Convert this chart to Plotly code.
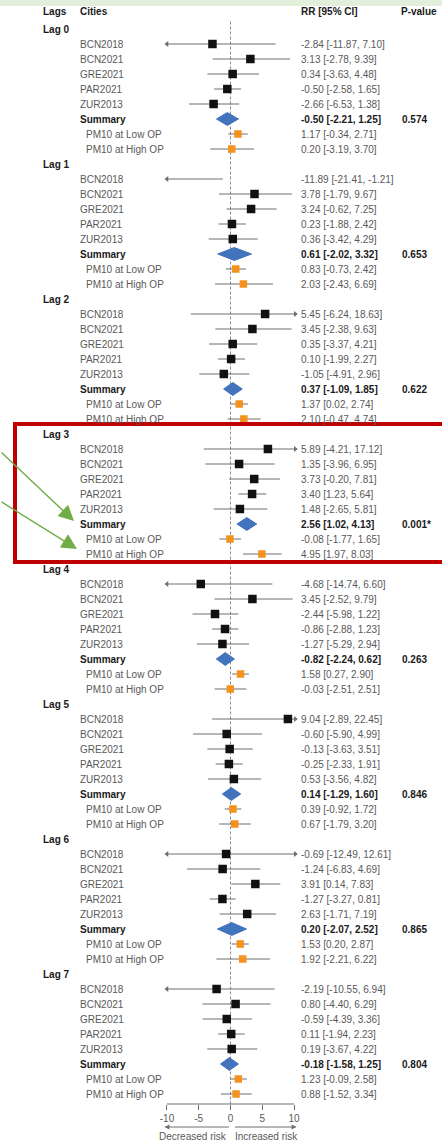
import plotly.graph_objects as go

W, H = 442, 1141

# ---------------- data ----------------
lags = ["Lag 0", "Lag 1", "Lag 2", "Lag 3", "Lag 4", "Lag 5", "Lag 6", "Lag 7"]
cities = ["BCN2018", "BCN2021", "GRE2021", "PAR2021", "ZUR2013"]

city_est = [
    [-2.84, 3.13, 0.34, -0.50, -2.66],
    [-11.89, 3.78, 3.24, 0.23, 0.36],
    [5.45, 3.45, 0.35, 0.10, -1.05],
    [5.89, 1.35, 3.73, 3.40, 1.48],
    [-4.68, 3.45, -2.44, -0.86, -1.27],
    [9.04, -0.60, -0.13, -0.25, 0.53],
    [-0.69, -1.24, 3.91, -1.27, 2.63],
    [-2.19, 0.80, -0.59, 0.11, 0.19],
]
city_lo = [
    [-11.87, -2.78, -3.63, -2.58, -6.53],
    [-21.41, -1.79, -0.62, -1.88, -3.42],
    [-6.24, -2.38, -3.37, -1.99, -4.91],
    [-4.21, -3.96, -0.20, 1.23, -2.65],
    [-14.74, -2.52, -5.98, -2.88, -5.29],
    [-2.89, -5.90, -3.63, -2.33, -3.56],
    [-12.49, -6.83, 0.14, -3.27, -1.71],
    [-10.55, -4.40, -4.39, -1.94, -3.67],
]
city_hi = [
    [7.10, 9.39, 4.48, 1.65, 1.38],
    [-1.21, 9.67, 7.25, 2.42, 4.29],
    [18.63, 9.63, 4.21, 2.27, 2.96],
    [17.12, 6.95, 7.81, 5.64, 5.81],
    [6.60, 9.79, 1.22, 1.23, 2.94],
    [22.45, 4.99, 3.51, 1.91, 4.82],
    [12.61, 4.69, 7.83, 0.81, 7.19],
    [6.94, 6.29, 3.36, 2.23, 4.22],
]

sum_est = [-0.50, 0.61, 0.37, 2.56, -0.82, 0.14, 0.20, -0.18]
sum_lo = [-2.21, -2.02, -1.09, 1.02, -2.24, -1.29, -2.07, -1.58]
sum_hi = [1.25, 3.32, 1.85, 4.13, 0.62, 1.60, 2.52, 1.25]
p_values = ["0.574", "0.653", "0.622", "0.001*", "0.263", "0.846", "0.865", "0.804"]

op_labels = ["PM10 at Low OP", "PM10 at High OP"]
low_est = [1.17, 0.83, 1.37, -0.08, 1.58, 0.39, 1.53, 1.23]
low_lo = [-0.34, -0.73, 0.02, -1.77, 0.27, -0.92, 0.20, -0.09]
low_hi = [2.71, 2.42, 2.74, 1.65, 2.90, 1.72, 2.87, 2.58]
high_est = [0.20, 2.03, 2.10, 4.95, -0.03, 0.67, 1.92, 0.88]
high_lo = [-3.19, -2.43, -0.47, 1.97, -2.51, -1.79, -2.21, -1.52]
high_hi = [3.70, 6.69, 4.74, 8.03, 2.51, 3.20, 6.22, 3.34]

x_ticks = [-10, -5, 0, 5, 10]
headers = ["Lags", "Cities", "RR [95% CI]", "P-value"]
direction_labels = ["Decreased risk", "Increased risk"]

# ---------------- style ----------------
FONT = "Liberation Sans, Arial, sans-serif"
GRAY_TXT = "#595959"
LINE_GRAY = "#6e6e6e"
BLACK = "#111111"
ORANGE = "#F5921E"
BLUE = "#4273BD"
XMIN, XMAX = -10.0, 10.2          # clipping limits for CIs (arrows)
ROWS_PER_LAG = 9


def row_of(lag, offset):
    return lag * ROWS_PER_LAG + offset


def fmt(e, lo, hi):
    return f"{e:.2f} [{lo:.2f}, {hi:.2f}]"


fig = go.Figure()

# CI lines + arrows
ci_x, ci_y = [], []
op_x, op_y = [], []
arr_l_x, arr_l_y, arr_r_x, arr_r_y = [], [], [], []
sq_x, sq_y = [], []
for L in range(len(lags)):
    for i in range(len(cities)):
        r = row_of(L, 1 + i)
        lo, hi = city_lo[L][i], city_hi[L][i]
        clo, chi = max(lo, XMIN), min(hi, XMAX)
        ci_x += [clo, chi, None]
        ci_y += [r, r, None]
        if lo < XMIN:
            arr_l_x.append(XMIN); arr_l_y.append(r)
        if hi > XMAX:
            arr_r_x.append(XMAX); arr_r_y.append(r)
        e = city_est[L][i]
        if XMIN <= e <= XMAX:
            sq_x.append(e); sq_y.append(r)
    for est, lo_, hi_, off in ((low_est, low_lo, low_hi, 7), (high_est, high_lo, high_hi, 8)):
        r = row_of(L, off)
        op_x += [lo_[L], hi_[L], None]
        op_y += [r, r, None]

fig.add_trace(go.Scatter(x=ci_x, y=ci_y, mode="lines",
                         line=dict(color=LINE_GRAY, width=1), hoverinfo="skip"))
fig.add_trace(go.Scatter(x=op_x, y=op_y, mode="lines",
                         line=dict(color=LINE_GRAY, width=1), hoverinfo="skip"))
fig.add_trace(go.Scatter(x=arr_l_x, y=arr_l_y, mode="markers",
                         marker=dict(symbol="triangle-left", size=5, color=LINE_GRAY)))
fig.add_trace(go.Scatter(x=arr_r_x, y=arr_r_y, mode="markers",
                         marker=dict(symbol="triangle-right", size=5, color=LINE_GRAY)))
fig.add_trace(go.Scatter(x=sq_x, y=sq_y, mode="markers",
                         marker=dict(symbol="square", size=8.5, color=BLACK)))

# summary diamonds
dx, dy = [], []
DH = 0.43
for L in range(len(lags)):
    r = row_of(L, 6)
    dx += [sum_lo[L], sum_est[L], sum_hi[L], sum_est[L], sum_lo[L], None]
    dy += [r, r - DH, r, r + DH, r, None]
fig.add_trace(go.Scatter(x=dx, y=dy, mode="lines", fill="toself",
                         fillcolor=BLUE, line=dict(color=BLUE, width=1)))

# OP squares
ox, oy = [], []
for L in range(len(lags)):
    ox += [low_est[L], high_est[L]]
    oy += [row_of(L, 7), row_of(L, 8)]
fig.add_trace(go.Scatter(x=ox, y=oy, mode="markers",
                         marker=dict(symbol="square", size=7.5, color=ORANGE)))

# ---------------- text ----------------
ann = []


def txt(px, row, text, bold=False, color=GRAY_TXT, size=10):
    ann.append(dict(x=px / W, xref="paper", y=row, yref="y",
                    text=f"<b>{text}</b>" if bold else text,
                    showarrow=False, xanchor="left", yanchor="middle",
                    font=dict(family=FONT, size=size, color=color)))


for px, h in zip([41, 78, 299, 399], headers):
    ann.append(dict(x=px / W, xref="paper", y=1 - 12 / H, yref="paper",
                    text=f"<b>{h}</b>", showarrow=False, xanchor="left",
                    yanchor="middle", font=dict(family=FONT, size=10, color="#1a1a1a")))

for L, lag in enumerate(lags):
    txt(41, row_of(L, 0), lag, bold=True, color="#1a1a1a")
    for i, c in enumerate(cities):
        r = row_of(L, 1 + i)
        txt(78, r, c)
        txt(299, r, fmt(city_est[L][i], city_lo[L][i], city_hi[L][i]))
    r = row_of(L, 6)
    txt(78, r, "Summary", bold=True, color="#1a1a1a")
    txt(299, r, fmt(sum_est[L], sum_lo[L], sum_hi[L]), bold=True, color="#1a1a1a")
    txt(400, r, p_values[L], bold=True, color="#1a1a1a", size=10)
    txt(84, row_of(L, 7), op_labels[0])
    txt(299, row_of(L, 7), fmt(low_est[L], low_lo[L], low_hi[L]))
    txt(84, row_of(L, 8), op_labels[1])
    txt(299, row_of(L, 8), fmt(high_est[L], high_lo[L], high_hi[L]))

# direction arrows below axis (tail offsets in pixels)
ARROW_Y = 1 - 1127 / H
ann.append(dict(x=-10.4, xref="x", y=ARROW_Y, yref="paper", ax=66, ay=0,
                showarrow=True, arrowhead=2, arrowsize=1,
                arrowwidth=1, arrowcolor=LINE_GRAY, text=""))
ann.append(dict(x=10.4, xref="x", y=ARROW_Y, yref="paper", ax=-63, ay=0,
                showarrow=True, arrowhead=2, arrowsize=1,
                arrowwidth=1, arrowcolor=LINE_GRAY, text=""))
ann.append(dict(x=-0.2, xref="x", y=1 - 1136 / H, yref="paper", text=direction_labels[0],
                showarrow=False, xanchor="right", yanchor="middle",
                font=dict(family=FONT, size=10, color=GRAY_TXT)))
ann.append(dict(x=0.4, xref="x", y=1 - 1136 / H, yref="paper", text=direction_labels[1],
                showarrow=False, xanchor="left", yanchor="middle",
                font=dict(family=FONT, size=10, color=GRAY_TXT)))

# green callout arrows
GREEN = "#70AD47"
ann.append(dict(x=74 / W, xref="paper", y=1 - 521 / H, yref="paper",
                ax=-76, ay=-70, showarrow=True, arrowhead=2, arrowsize=2.2,
                arrowwidth=1.4, arrowcolor=GREEN, text=""))
ann.append(dict(x=77 / W, xref="paper", y=1 - 549 / H, yref="paper",
                ax=-79, ay=-48, showarrow=True, arrowhead=2, arrowsize=2.2,
                arrowwidth=1.4, arrowcolor=GREEN, text=""))

# ---------------- shapes ----------------
shapes = [
    # top light-green band
    dict(type="rect", xref="paper", yref="paper", x0=0, x1=1, y0=1 - 6 / H, y1=1,
         fillcolor="#E2EFDA", line=dict(width=0), layer="below"),
    # zero reference line
    dict(type="line", xref="x", yref="y", x0=0, x1=0, y0=-0.5, y1=71.67,
         line=dict(color="#8a8a8a", width=1, dash="3px,2px"), layer="below"),
    # axis line spanning ticks
    dict(type="line", xref="x", yref="paper", x0=x_ticks[0], x1=x_ticks[-1],
         y0=1 - 1104 / H, y1=1 - 1104 / H, line=dict(color=LINE_GRAY, width=1)),
    # red highlight box
    dict(type="rect", xref="paper", yref="paper", x0=15 / W, x1=1.03,
         y0=1 - 562 / H, y1=1 - 424 / H, line=dict(color="#C00000", width=4),
         fillcolor="rgba(0,0,0,0)"),
]

fig.update_layout(
    width=W, height=H, margin=dict(l=0, r=0, t=0, b=0),
    paper_bgcolor="white", plot_bgcolor="white", showlegend=False,
    annotations=ann, shapes=shapes,
    xaxis=dict(domain=[144.75 / W, 316.25 / W], range=[-13.5, 13.5],
               tickvals=x_ticks, ticktext=[str(t) for t in x_ticks],
               ticks="outside", ticklen=5, tickcolor=LINE_GRAY, tickwidth=1,
               showline=False, showgrid=False, zeroline=False,
               tickfont=dict(family=FONT, size=10, color=GRAY_TXT)),
    yaxis=dict(domain=[37 / H, 1 - 14 / H], range=[71.667, -1.0],
               visible=False, showgrid=False, zeroline=False),
)

fig.write_html("out.html", config={"displayModeBar": False},
               post_script="document.body.style.margin='0';document.body.style.overflow='hidden';")
